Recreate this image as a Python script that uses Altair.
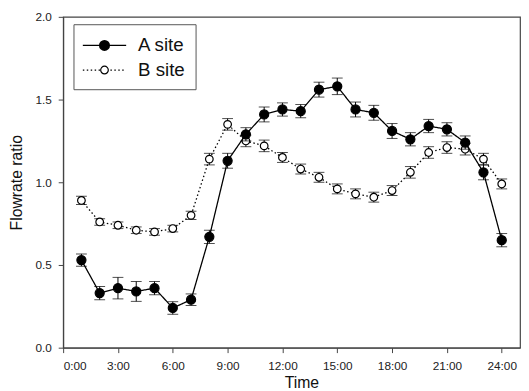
import altair as alt
import pandas as pd

hours = list(range(1, 25))
a_site = [0.53, 0.33, 0.36, 0.34, 0.36, 0.24, 0.29, 0.67, 1.13, 1.29, 1.41, 1.44,
          1.43, 1.56, 1.58, 1.44, 1.42, 1.31, 1.26, 1.34, 1.32, 1.24, 1.06, 0.65]
a_err = [0.037, 0.04, 0.065, 0.06, 0.04, 0.038, 0.035, 0.04, 0.045, 0.04, 0.045, 0.04,
         0.04, 0.045, 0.05, 0.045, 0.045, 0.045, 0.04, 0.04, 0.04, 0.04, 0.045, 0.04]
b_site = [0.89, 0.76, 0.74, 0.71, 0.70, 0.72, 0.80, 1.14, 1.35, 1.25, 1.22, 1.15,
          1.08, 1.03, 0.96, 0.93, 0.91, 0.95, 1.06, 1.18, 1.21, 1.20, 1.14, 0.99]
b_err = [0.025, 0.02, 0.02, 0.02, 0.02, 0.02, 0.025, 0.035, 0.035, 0.035, 0.035, 0.03,
         0.03, 0.03, 0.03, 0.03, 0.03, 0.03, 0.035, 0.035, 0.035, 0.035, 0.035, 0.03]
x_ticks = [0, 3, 6, 9, 12, 15, 18, 21, 24]
y_ticks = [0.0, 0.5, 1.0, 1.5, 2.0]
series_names = ["A site", "B site"]

rows = []
for h, v, e in zip(hours, a_site, a_err):
    rows.append({"hour": h, "value": v, "lo": v - e, "hi": v + e, "site": "A site"})
for h, v, e in zip(hours, b_site, b_err):
    rows.append({"hour": h, "value": v, "lo": v - e, "hi": v + e, "site": "B site"})
df = pd.DataFrame(rows)
dfa = df[df.site == "A site"]
dfb = df[df.site == "B site"]

xscale = alt.Scale(domain=[0, 25], nice=False, zero=False)
yscale = alt.Scale(domain=[0, 2], nice=False)

xenc = alt.X("hour:Q", scale=xscale,
             axis=alt.Axis(values=x_ticks, title="Time",
                           labelExpr="datum.value + ':00'",
                           labelPadding=8, titleX=242, titlePadding=3))
yenc = alt.Y("value:Q", scale=yscale,
             axis=alt.Axis(values=y_ticks, format=".1f", title="Flowrate ratio",
                           labelPadding=7, titlePadding=11))


def series(d, dash, filled, size):
    base = alt.Chart(d)
    line = base.mark_line(color="black", strokeWidth=1.3,
                          strokeDash=dash).encode(x=xenc, y=yenc)
    err = base.mark_rule(color="black", strokeWidth=1).encode(
        x="hour:Q", y="lo:Q", y2="hi:Q")
    cap_lo = base.mark_tick(color="black", size=11, thickness=1, orient="horizontal").encode(
        x="hour:Q", y="lo:Q")
    cap_hi = base.mark_tick(color="black", size=11, thickness=1, orient="horizontal").encode(
        x="hour:Q", y="hi:Q")
    pts = base.mark_point(shape="circle", filled=True, size=size,
                          fill="black" if filled else "white",
                          stroke="black", strokeWidth=1.2, opacity=1).encode(
        x="hour:Q", y="value:Q")
    return [line, err, cap_lo, cap_hi, pts]


layers = series(dfb, [1.5, 2.5], False, 60) + series(dfa, [1, 0], True, 85)

# legend (decoration)
leg = pd.DataFrame({"site": series_names, "ly": [29, 54]})
box = alt.Chart(pd.DataFrame({"k": [0]})).mark_rect(
    fill="white", stroke="#555", strokeWidth=1).encode(
    x=alt.value(11), x2=alt.value(135), y=alt.value(8), y2=alt.value(74))
leg_a = alt.Chart(leg[leg.site == "A site"])
leg_b = alt.Chart(leg[leg.site == "B site"])
la_line = leg_a.mark_rule(color="black", strokeWidth=1.3).encode(
    x=alt.value(20), x2=alt.value(64), y=alt.Y("ly:Q", scale=None))
lb_line = leg_b.mark_rule(color="black", strokeWidth=1.3, strokeDash=[1.5, 2.5]).encode(
    x=alt.value(20), x2=alt.value(62), y=alt.Y("ly:Q", scale=None))
la_pt = leg_a.mark_point(shape="circle", filled=True, size=85, fill="black",
                         stroke="black", opacity=1).encode(
    x=alt.value(42), y=alt.Y("ly:Q", scale=None))
lb_pt = leg_b.mark_point(shape="circle", filled=True, size=60, fill="white",
                         stroke="black", strokeWidth=1.2, opacity=1).encode(
    x=alt.value(42), y=alt.Y("ly:Q", scale=None))
leg_txt = alt.Chart(leg).mark_text(align="left", baseline="middle", fontSize=19,
                                   font="Liberation Sans", color="#111").encode(
    x=alt.value(76), y=alt.Y("ly:Q", scale=None), text="site:N")

chart = alt.layer(*layers, box, la_line, lb_line, la_pt, lb_pt, leg_txt).properties(
    width=464, height=336,
    autosize=alt.AutoSizeParams(type="none"),
    padding={"left": 56, "top": 6, "right": 1, "bottom": 41},
).configure_view(stroke="#444", strokeWidth=1.2).configure_axis(
    grid=False, domainColor="#444", domainWidth=1.2, tickColor="#444",
    tickSize=5, labelFont="Liberation Sans", labelFontSize=12, labelColor="#222",
    titleFont="Liberation Sans", titleFontSize=16, titleColor="#111",
    titleFontWeight="normal",
)

chart.save("out.html", embed_options={"renderer": "svg", "actions": False})
